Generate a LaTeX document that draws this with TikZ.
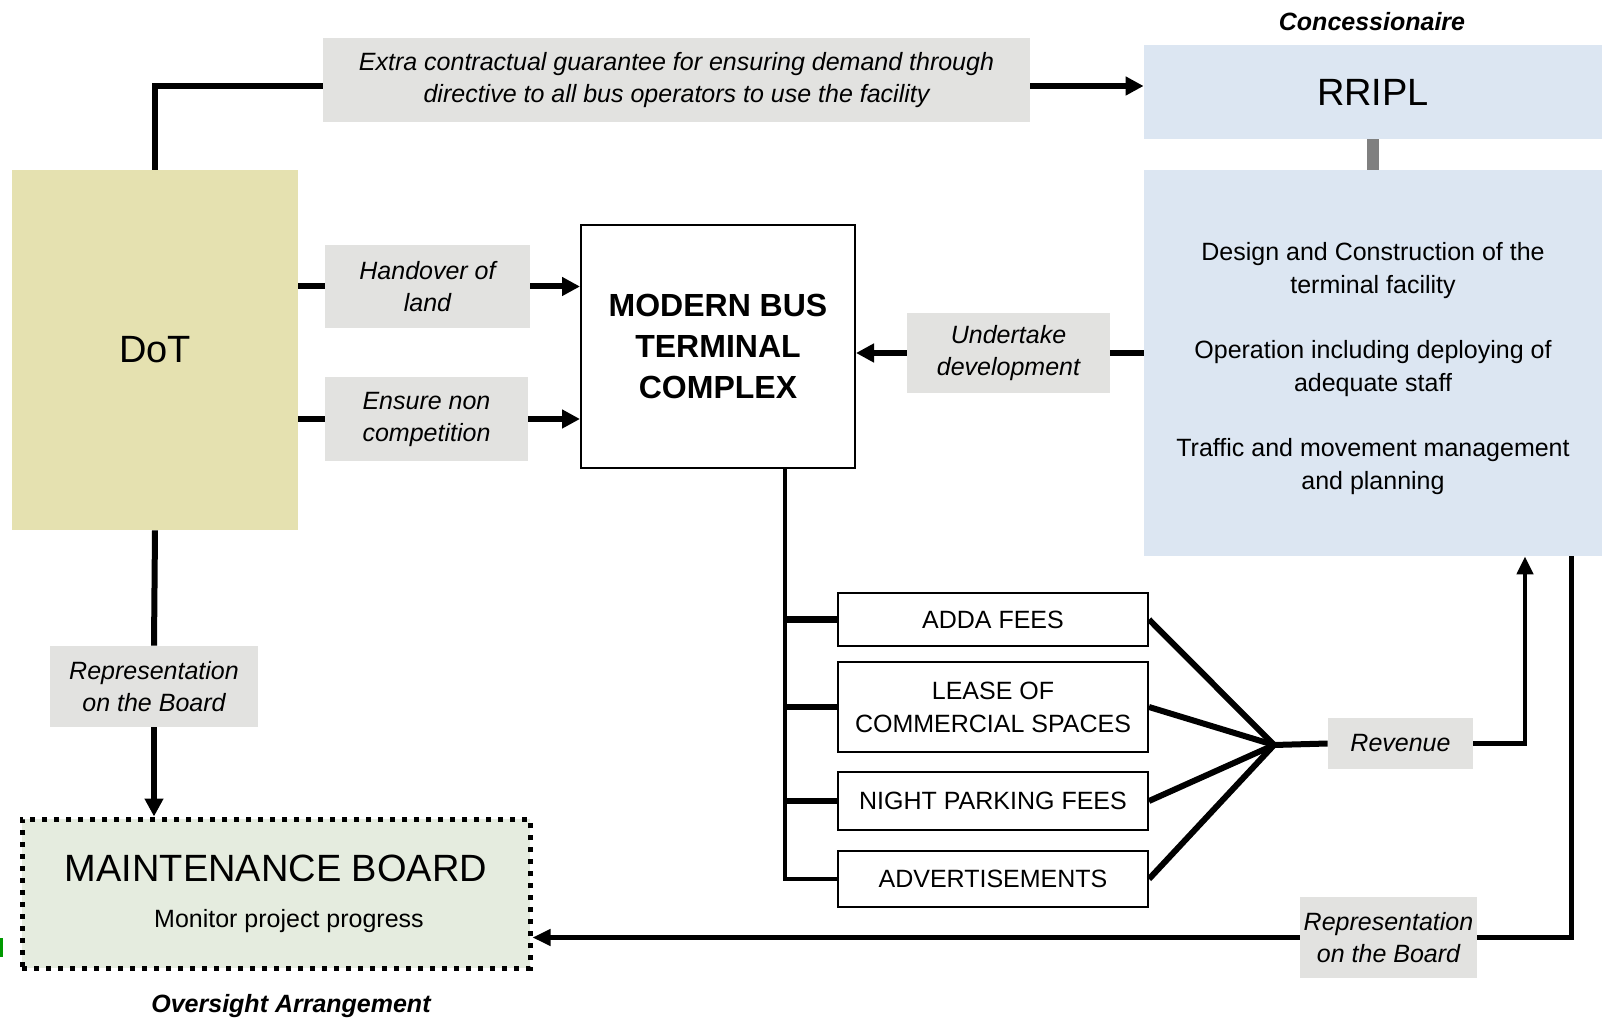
\documentclass[tikz,border=0pt]{standalone}
\usepackage{fontspec}
\setmainfont{Liberation Sans}
\usetikzlibrary{arrows.meta,calc}
\definecolor{dotfill}{RGB}{229,225,176}
\definecolor{labelgray}{RGB}{226,226,224}
\definecolor{rriplblue}{RGB}{220,230,242}
\definecolor{boardgreen}{RGB}{229,236,223}

\begin{document}
\begin{tikzpicture}[x=0.5pt,y=-0.5pt,
	conn/.style={line width=3pt},
	arr/.style={conn,-{Triangle[length=9pt,width=9pt]}},
	tag/.style={fill=labelgray,inner sep=0pt,align=center,font=\fontsize{12.5}{16}\selectfont\itshape},
	item/.style={draw=black,line width=1pt,fill=white,inner sep=0pt,align=center,minimum width=155pt,font=\fontsize{12.5}{16.5}\selectfont}]
	\useasboundingbox (0,0) rectangle (1602,1021);
	\node[fill=dotfill,minimum width=143pt,minimum height=180pt,font=\fontsize{19}{22}\selectfont] (dot) at (155,350) {DoT};
	\node[tag,minimum width=353.5pt,minimum height=42pt] (extra) at (676.5,80) {Extra contractual guarantee for ensuring demand through\\directive to all bus operators to use the facility};
	\node[fill=rriplblue,minimum width=229pt,minimum height=47pt,font=\fontsize{19}{22}\selectfont] (rripl) at (1373,92) {RRIPL};
	\node[font=\fontsize{12.5}{15}\selectfont\bfseries\itshape] (conc) at (1372,22) {Concessionaire};
	\node[fill=rriplblue,minimum width=229pt,minimum height=193pt,font=\fontsize{12.5}{16.5}\selectfont] (tasks) at (1373,363) {\raisebox{-2.5pt}[\height][\depth]{\begin{tabular}{@{}c@{}}Design and Construction of the\\terminal facility\\[16pt]Operation including deploying of\\adequate staff\\[16pt]Traffic and movement management\\and planning\end{tabular}}};
	\node[tag,minimum width=102.5pt,minimum height=41.5pt] (handover) at (427.5,286.5) {Handover of\\land};
	\node[tag,minimum width=101.5pt,minimum height=42pt] (ensure) at (426.5,419) {Ensure non\\competition};
	\node[draw=black,line width=1pt,minimum width=137pt,minimum height=121.5pt,align=center,font=\fontsize{16}{20.5}\selectfont\bfseries] (mbtc) at (718,346.5) {MODERN BUS\\TERMINAL\\COMPLEX};
	\node[tag,minimum width=101.5pt,minimum height=40pt] (undertake) at (1008.5,353) {Undertake\\development};
	\node[item,minimum height=26.5pt] (adda) at (993,619.5) {ADDA FEES};
	\node[item,minimum height=45pt] (lease) at (993,707) {LEASE OF\\COMMERCIAL SPACES};
	\node[item,minimum height=29pt] (night) at (993,801) {NIGHT PARKING FEES};
	\node[item,minimum height=28pt] (adv) at (993,879) {ADVERTISEMENTS};
	\coordinate (trunk) at (785,0);
	\coordinate (fan) at (1274,745);
	\node[tag,minimum width=72.5pt,minimum height=25.5pt] (revenue) at (1400.5,743.5) {Revenue};
	\node[tag,minimum width=88.5pt,minimum height=40.5pt] (reprripl) at (1388.5,937.5) {Representation\\on the Board};
	\node[tag,minimum width=104pt,minimum height=40.5pt] (repdot) at (154,686.5) {Representation\\on the Board};
	\node[fill=boardgreen,draw=black,line width=2.5pt,dash pattern=on 2.5pt off 3.5pt,minimum width=254pt,minimum height=74.5pt,align=center,font=\fontsize{19}{23}\selectfont] (board) at (276,893.5) {MAINTENANCE BOARD\\{\fontsize{12.5}{15}\selectfont\hspace*{13pt}Monitor project progress}};
	\node[font=\fontsize{12.5}{15}\selectfont\bfseries\itshape] (oversight) at (291,1006) {Oversight Arrangement};
	\draw[conn] (dot.north) |- ([yshift=-3pt]extra.west);
	\draw[arr] ([yshift=-3pt]extra.east) -- ([yshift=-3pt]extra.east -| rripl.west);
	\draw[line width=6pt,gray] (rripl.south) -- (tasks.north);
	\draw[conn] (dot.east |- handover.west) -- (handover.west);
	\draw[arr] (handover.east) -- (handover.east -| mbtc.west);
	\draw[conn] (dot.east |- ensure.west) -- (ensure.west);
	\draw[arr] (ensure.east) -- (ensure.east -| mbtc.west);
	\draw[conn] (tasks.west |- undertake.east) -- (undertake.east);
	\draw[arr] (undertake.west) -- (undertake.west -| mbtc.east);
	\draw[line width=2.2pt] (mbtc.south -| trunk) |- (adv.west);
	\foreach \b in {adda,lease,night}
		\draw[conn] (trunk |- \b.west) -- (\b.west);
	\foreach \b in {adda,lease,night,adv}
		\draw[conn] (\b.east) -- (fan);
	\draw[conn] (fan) -- (revenue.west);
	\draw[line width=2.2pt,-{Triangle[length=9pt,width=8pt]}] (revenue.east) -| ($(tasks.south)+(152,0)$);
	\draw[line width=2.2pt] ($(tasks.south east)+(-31,0)$) |- (reprripl.east);
	\draw[line width=2.2pt,-{Triangle[length=9pt,width=8pt]}] (reprripl.west) -- (reprripl.west -| board.east);
	\draw[conn] (dot.south) -- (repdot.north);
	\draw[arr] (repdot.south) -- (repdot.south |- board.north);
	\fill[green!60!black] (0,938) rectangle (3,957);
\end{tikzpicture}
\end{document}
